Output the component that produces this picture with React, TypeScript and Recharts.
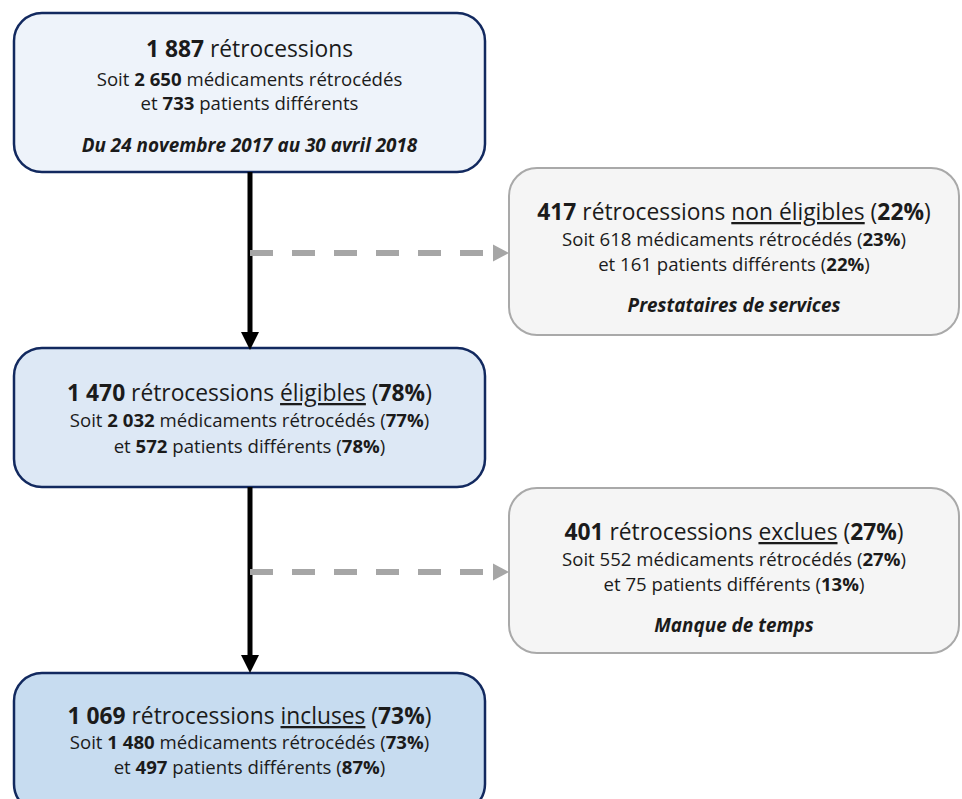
import React from 'react';
import { ComposedChart, XAxis, YAxis, ReferenceArea, ReferenceLine } from 'recharts';

// ---- Data (flow stages) ----
const stages = ['total', 'nonEligibles', 'eligibles', 'exclues', 'incluses'];
const retrocessions = [1887, 417, 1470, 401, 1069];
const medicaments = [2650, 618, 2032, 552, 1480];
const patients = [733, 161, 572, 75, 497];
const pctRetro: (number | null)[] = [null, 22, 78, 27, 73];
const pctMed: (number | null)[] = [null, 23, 77, 27, 73];
const pctPat: (number | null)[] = [null, 22, 78, 13, 87];
const qualifiers = ['', 'non éligibles', 'éligibles', 'exclues', 'incluses'];
const notes = ['Du 24 novembre 2017 au 30 avril 2018', 'Prestataires de services', '', 'Manque de temps', ''];
const boldSubNumbers = [true, false, true, false, true];

// ---- Layout (pixel coordinates in the 962x799 frame) ----
const W = 962;
const H = 799;
const boxLayout = [
  { x1: 14, x2: 485, y1: 13, y2: 172, base: [57, 86, 110, 152], kind: 'blue1' },
  { x1: 509, x2: 959, y1: 168, y2: 335, base: [220, 246, 271, 312], kind: 'gray' },
  { x1: 14, x2: 485, y1: 348, y2: 487, base: [401, 427, 453, 0], kind: 'blue2' },
  { x1: 509, x2: 959, y1: 488, y2: 653, base: [540, 566, 591, 632], kind: 'gray' },
  { x1: 14, x2: 485, y1: 673, y2: 812, base: [724, 749, 774, 0], kind: 'blue3' },
];
const mainArrows = [
  { x: 250, y1: 172, y2: 350 },
  { x: 250, y1: 487, y2: 673 },
];
const sideArrows = [
  { y: 253, x1: 250, x2: 509 },
  { y: 572, x1: 250, x2: 509 },
];

const fills: Record<string, string> = {
  blue1: '#EEF3FA',
  blue2: '#DDE8F5',
  blue3: '#C7DCF0',
  gray: '#F5F5F5',
};
const strokes: Record<string, string> = {
  blue1: '#12295F',
  blue2: '#12295F',
  blue3: '#12295F',
  gray: '#A9A9A9',
};

const FONT = '"Open Sans", Lato, sans-serif';
const TEXT = '#1B1B1B';
const SIZE_MAIN = 22.8;
const SIZE_SUB = 18.6;
const SIZE_NOTE = 18.9;

const fmt = (n: number) =>
  n >= 1000 ? `${Math.floor(n / 1000)} ${String(n % 1000).padStart(3, '0')}` : String(n);

const BoxShape = (i: number) => (props: any) => {
  const { x, y, width, height } = props;
  const L = boxLayout[i];
  const kind = L.kind;
  const cx = x + width / 2;
  const subBold = boldSubNumbers[i] ? 700 : 400;
  return (
    <g>
      <rect
        x={x}
        y={y}
        width={width}
        height={height}
        rx={28}
        ry={28}
        fill={fills[kind]}
        stroke={strokes[kind]}
        strokeWidth={kind === 'gray' ? 2 : 2.5}
      />
      <text x={cx} y={L.base[0]} textAnchor="middle" fontFamily={FONT} fontSize={SIZE_MAIN} fill={TEXT}>
        <tspan fontWeight={700}>{fmt(retrocessions[i])}</tspan>
        <tspan> rétrocessions</tspan>
        {qualifiers[i] ? <tspan> </tspan> : null}
        {qualifiers[i] ? <tspan textDecoration="underline" style={{ textDecoration: 'underline' }}>{qualifiers[i]}</tspan> : null}
        {pctRetro[i] != null ? (
          <>
            <tspan> (</tspan>
            <tspan fontWeight={700}>{pctRetro[i]}%</tspan>
            <tspan>)</tspan>
          </>
        ) : null}
      </text>
      <text x={cx} y={L.base[1]} textAnchor="middle" fontFamily={FONT} fontSize={SIZE_SUB} fill={TEXT}>
        <tspan>Soit </tspan>
        <tspan fontWeight={subBold}>{fmt(medicaments[i])}</tspan>
        <tspan> médicaments rétrocédés</tspan>
        {pctMed[i] != null ? (
          <>
            <tspan> (</tspan>
            <tspan fontWeight={700}>{pctMed[i]}%</tspan>
            <tspan>)</tspan>
          </>
        ) : null}
      </text>
      <text x={cx} y={L.base[2]} textAnchor="middle" fontFamily={FONT} fontSize={SIZE_SUB} fill={TEXT}>
        <tspan>et </tspan>
        <tspan fontWeight={subBold}>{fmt(patients[i])}</tspan>
        <tspan> patients différents</tspan>
        {pctPat[i] != null ? (
          <>
            <tspan> (</tspan>
            <tspan fontWeight={700}>{pctPat[i]}%</tspan>
            <tspan>)</tspan>
          </>
        ) : null}
      </text>
      {notes[i] ? (
        <text
          x={cx}
          y={L.base[3]}
          textAnchor="middle"
          fontFamily={FONT}
          fontSize={SIZE_NOTE}
          fontWeight={700}
          fontStyle="italic"
          fill={TEXT}
        >
          {notes[i]}
        </text>
      ) : null}
    </g>
  );
};

const MainArrowShape = (props: any) => {
  const { x1, y1, x2, y2 } = props;
  const head = 18;
  const half = 9;
  return (
    <g>
      <line x1={x1} y1={y1} x2={x2} y2={y2 - head + 1} stroke="#000" strokeWidth={5} />
      <polygon points={`${x2 - half},${y2 - head} ${x2 + half},${y2 - head} ${x2},${y2}`} fill="#000" />
    </g>
  );
};

const SideArrowShape = (props: any) => {
  const { x1, y1, x2, y2 } = props;
  const head = 16;
  const half = 8.5;
  return (
    <g>
      <line
        x1={x1}
        y1={y1}
        x2={x2 - head}
        y2={y2}
        stroke="#A6A6A6"
        strokeWidth={6}
        strokeDasharray="23 19"
      />
      <polygon points={`${x2 - head},${y2 - half} ${x2 - head},${y2 + half} ${x2},${y2}`} fill="#A6A6A6" />
    </g>
  );
};

export default function App() {
  return (
    <div style={{ position: 'absolute', left: 0, top: 0, width: W, height: H, background: '#fff' }}>
      <ComposedChart width={W} height={H} margin={{ top: 0, right: 0, bottom: 0, left: 0 }} data={stages.map((s) => ({ s }))}>
        <XAxis type="number" dataKey="x" domain={[0, W]} hide allowDataOverflow />
        <YAxis type="number" dataKey="y" domain={[0, H]} reversed hide allowDataOverflow width={0} />
        {mainArrows.map((a, k) => (
          <ReferenceLine
            key={`m${k}`}
            segment={[{ x: a.x, y: a.y1 }, { x: a.x, y: a.y2 }]}
            ifOverflow="visible"
            shape={MainArrowShape}
          />
        ))}
        {sideArrows.map((a, k) => (
          <ReferenceLine
            key={`s${k}`}
            segment={[{ x: a.x1, y: a.y }, { x: a.x2, y: a.y }]}
            ifOverflow="visible"
            shape={SideArrowShape}
          />
        ))}
        {boxLayout.map((b, i) => (
          <ReferenceArea
            key={stages[i]}
            x1={b.x1}
            x2={b.x2}
            y1={b.y1}
            y2={b.y2}
            ifOverflow="visible"
            shape={BoxShape(i)}
          />
        ))}
      </ComposedChart>
    </div>
  );
}
